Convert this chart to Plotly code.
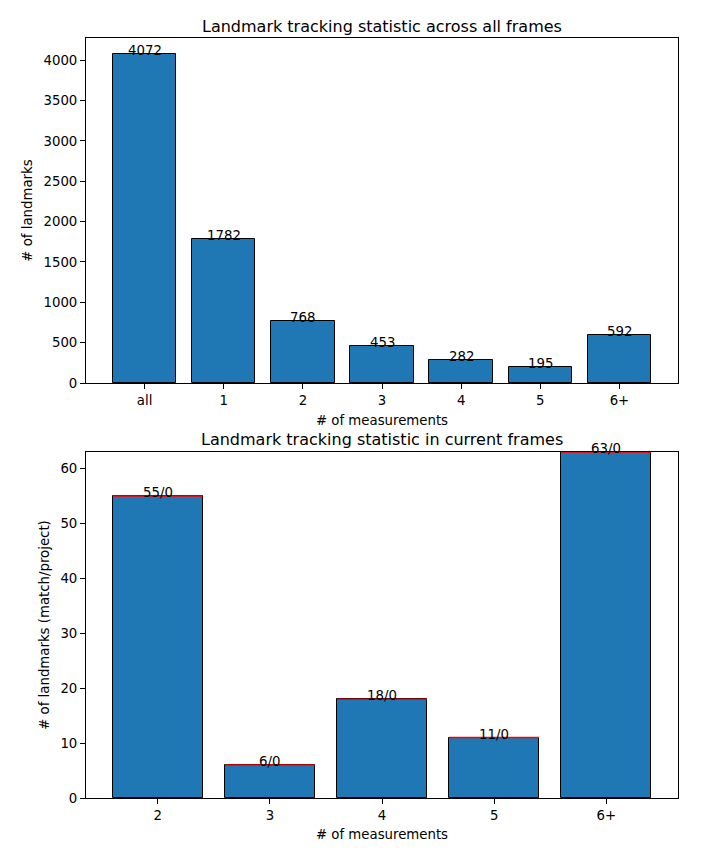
import plotly.graph_objects as go

# Top chart data
top_categories = ["all", "1", "2", "3", "4", "5", "6+"]
top_counts = [4072, 1782, 768, 453, 282, 195, 592]

# Bottom chart data
bottom_categories = ["2", "3", "4", "5", "6+"]
bottom_match = [55, 6, 18, 11, 63]
bottom_project = [0, 0, 0, 0, 0]

BLUE = "#1f77b4"
FONT = "DejaVu Sans"
OFF = 8  # page body margin
W, H = 711 - OFF, 861 - OFF

fig = go.Figure()

top_x = list(range(len(top_categories)))
fig.add_trace(go.Bar(
    x=top_x, y=top_counts, width=0.8,
    marker=dict(color=BLUE, line=dict(color="black", width=1)),
    xaxis="x", yaxis="y", showlegend=False, hoverinfo="skip",
))

bot_x = list(range(len(bottom_categories)))
fig.add_trace(go.Bar(
    x=bot_x, y=bottom_match, width=0.8,
    marker=dict(color=BLUE, line=dict(color="black", width=1)),
    xaxis="x2", yaxis="y2", showlegend=False, hoverinfo="skip",
))
# project portion stacked on top (zero height -> drawn as red edge line)
lx, ly = [], []
for i, (m, p) in enumerate(zip(bottom_match, bottom_project)):
    lx += [i - 0.4, i + 0.4, None]
    ly += [m + p, m + p, None]
fig.add_trace(go.Scatter(
    x=lx, y=ly, mode="lines", line=dict(color="red", width=1.5),
    xaxis="x2", yaxis="y2", showlegend=False, hoverinfo="skip",
))

annotations = []
for i, v in enumerate(top_counts):
    annotations.append(dict(x=i, y=v, xref="x", yref="y", text=str(v),
                            showarrow=False, yanchor="bottom", yshift=-6,
                            font=dict(size=13.3, color="black", family=FONT)))
for i, (m, p) in enumerate(zip(bottom_match, bottom_project)):
    annotations.append(dict(x=i, y=m + p, xref="x2", yref="y2", text=f"{m}/{p}",
                            showarrow=False, yanchor="bottom", yshift=-6,
                            font=dict(size=13.3, color="black", family=FONT)))

# target pixel positions in the page, converted into figure coordinates
top_dom = [(H - (383 - OFF)) / H, (H - (38 - OFF)) / H]
bot_dom = [(H - (798 - OFF)) / H, (H - (452 - OFF)) / H]

annotations.append(dict(x=0.5, y=top_dom[1], xref="paper", yref="paper",
                        text="Landmark tracking statistic across all frames",
                        showarrow=False, yanchor="bottom", yshift=0,
                        font=dict(size=16, color="black", family=FONT)))
annotations.append(dict(x=0.5, y=bot_dom[1], xref="paper", yref="paper",
                        text="Landmark tracking statistic in current frames",
                        showarrow=False, yanchor="bottom", yshift=1,
                        font=dict(size=16, color="black", family=FONT)))

axis_common = dict(showline=True, linecolor="black", linewidth=1, mirror=True,
                   ticks="outside", ticklen=5, tickwidth=1, tickcolor="black",
                   showgrid=False, zeroline=False, automargin=False,
                   tickfont=dict(size=13.3, color="black", family=FONT))

top_ymax = max(top_counts) * 1.05
bot_ymax = max(m + p for m, p in zip(bottom_match, bottom_project))

fig.update_layout(
    width=W, height=H,
    margin=dict(l=86 - OFF, r=W - (678 - OFF), t=0, b=0, autoexpand=False),
    paper_bgcolor="white", plot_bgcolor="white",
    font=dict(family=FONT, color="black"),
    bargap=0,
    xaxis=dict(axis_common, domain=[0, 1], anchor="y",
               range=[-0.74, len(top_categories) - 1 + 0.74],
               tickvals=top_x, ticktext=top_categories,
               title=dict(text="# of measurements", standoff=8,
                          font=dict(size=13.3, family=FONT))),
    yaxis=dict(axis_common, domain=top_dom, anchor="x",
               range=[0, top_ymax], tickvals=list(range(0, 4001, 500)),
               title=dict(text="# of landmarks", standoff=7,
                          font=dict(size=13.3, family=FONT))),
    xaxis2=dict(axis_common, domain=[0, 1], anchor="y2",
                range=[-0.64, len(bottom_categories) - 1 + 0.64],
                tickvals=bot_x, ticktext=bottom_categories,
                title=dict(text="# of measurements", standoff=7,
                           font=dict(size=13.3, family=FONT))),
    yaxis2=dict(axis_common, domain=bot_dom, anchor="x2",
                range=[0, bot_ymax], tickvals=list(range(0, 61, 10)),
                title=dict(text="# of landmarks (match/project)", standoff=7,
                           font=dict(size=13.3, family=FONT))),
    annotations=annotations,
)

fig.write_html("out.html")
